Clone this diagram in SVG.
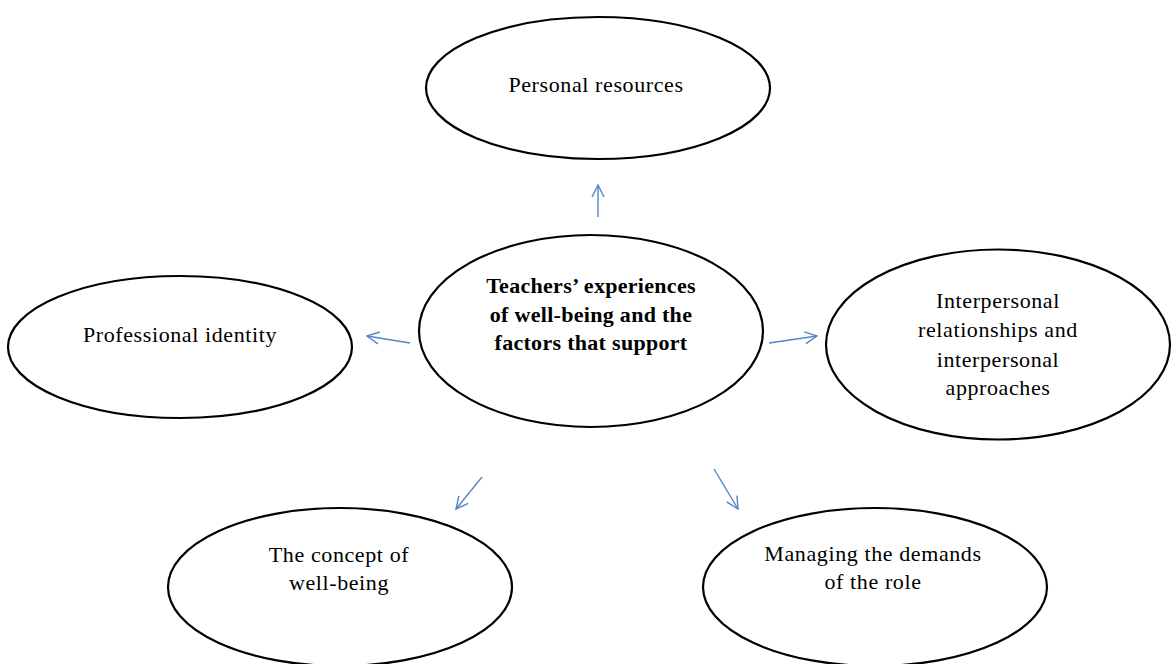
<svg xmlns="http://www.w3.org/2000/svg" width="1173" height="664" viewBox="0 0 1173 664">
<style>
.node ellipse{fill:#fff;stroke:#000;stroke-width:2.2}
.node text{font-family:"Liberation Serif","Times New Roman",serif;font-size:22px;fill:#000;text-anchor:middle;letter-spacing:0.6px}
.node text.b{font-weight:bold;letter-spacing:0.3px}
.conn line{stroke:#5585c5;stroke-width:1.4;fill:none}
</style>
<defs>
<marker id="ah" viewBox="0 0 14 14" refX="13" refY="7" markerWidth="14" markerHeight="14" markerUnits="userSpaceOnUse" orient="auto">
<path d="M1,1 L13,7 L1,13" fill="none" stroke="#5585c5" stroke-width="1.4"/>
</marker>
</defs>
<rect width="1173" height="664" fill="#fff"/>
<g id="connectors" class="conn">
<line x1="598" y1="217" x2="598" y2="185" marker-end="url(#ah)"/>
<line x1="410" y1="343" x2="367" y2="336" marker-end="url(#ah)"/>
<line x1="769" y1="343" x2="817" y2="336" marker-end="url(#ah)"/>
<line x1="482" y1="477" x2="456" y2="509" marker-end="url(#ah)"/>
<line x1="714" y1="469" x2="738" y2="509" marker-end="url(#ah)"/>
</g>
<g id="personal-resources" class="node">
<ellipse cx="598" cy="88" rx="172" ry="71"/>
<text x="596" y="92">Personal resources</text>
</g>
<g id="teachers-experiences" class="node">
<ellipse cx="591" cy="331" rx="172" ry="96"/>
<text class="b" x="591" y="293">Teachers’ experiences</text>
<text class="b" x="591" y="322">of well-being and the</text>
<text class="b" x="591" y="350">factors that support</text>
</g>
<g id="professional-identity" class="node">
<ellipse cx="180" cy="347" rx="172" ry="71"/>
<text x="180" y="342">Professional identity</text>
</g>
<g id="interpersonal" class="node">
<ellipse cx="998" cy="344.5" rx="172" ry="95"/>
<text x="998" y="308">Interpersonal</text>
<text x="998" y="337">relationships and</text>
<text x="998" y="367">interpersonal</text>
<text x="998" y="395">approaches</text>
</g>
<g id="concept-of-well-being" class="node">
<ellipse cx="340" cy="587" rx="172" ry="79"/>
<text x="339" y="562">The concept of</text>
<text x="339" y="590">well-being</text>
</g>
<g id="managing-demands" class="node">
<ellipse cx="875" cy="587" rx="172" ry="79"/>
<text x="873" y="561">Managing the demands</text>
<text x="873" y="589">of the role</text>
</g>
</svg>
